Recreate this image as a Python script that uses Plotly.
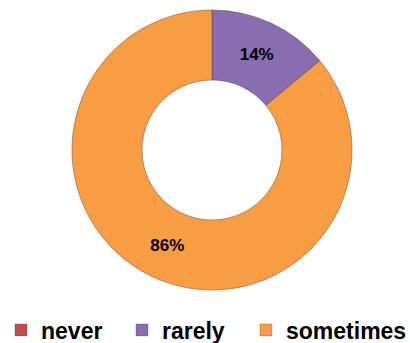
import plotly.graph_objects as go

labels = ["never", "rarely", "sometimes"]
values = [0, 14, 86]
pct_text = ["", "14%", "86%"]
colors = ["#C0504D", "#8A6DB0", "#F99D45"]
legend_x_px = [1, 122, 246]

H = 343
MB = 45
PH = H - MB

fig = go.Figure(go.Pie(
    labels=labels,
    values=values,
    text=pct_text,
    texttemplate="<b>%{text}</b>",
    textposition="inside",
    insidetextorientation="horizontal",
    textfont=dict(family="Arial", size=17, color="black"),
    hole=0.5,
    sort=False,
    direction="clockwise",
    rotation=0,
    marker=dict(colors=colors, line=dict(color="rgba(90,70,50,0.6)", width=0.8)),
    domain=dict(x=[72/410, 352/410], y=[(PH-290)/PH, (PH-10)/PH]),
    hoverinfo="label+percent",
    showlegend=False,
))

legend_names = ["legend", "legend2", "legend3"]
for lab, col, lname in zip(labels, colors, legend_names):
    fig.add_trace(go.Scatter(
        x=[None], y=[None], mode="markers", name=lab,
        marker=dict(symbol="square", size=12, color=col,
                    line=dict(color="rgba(60,40,40,0.5)", width=0.5)),
        legend=lname, showlegend=True, hoverinfo="skip",
    ))

layout_legends = {}
for lname, xpx in zip(legend_names, legend_x_px):
    layout_legends[lname] = dict(
        orientation="h",
        x=xpx/410, xanchor="left", xref="container",
        y=13/H, yanchor="middle", yref="container",
        font=dict(family="Arial", size=23, color="black", weight=700),
        bgcolor="rgba(0,0,0,0)",
    )

fig.update_layout(
    width=410, height=H,
    margin=dict(l=0, r=0, t=0, b=MB),
    paper_bgcolor="white",
    plot_bgcolor="white",
    xaxis=dict(visible=False),
    yaxis=dict(visible=False),
    **layout_legends,
)

fig.write_html("out.html")
